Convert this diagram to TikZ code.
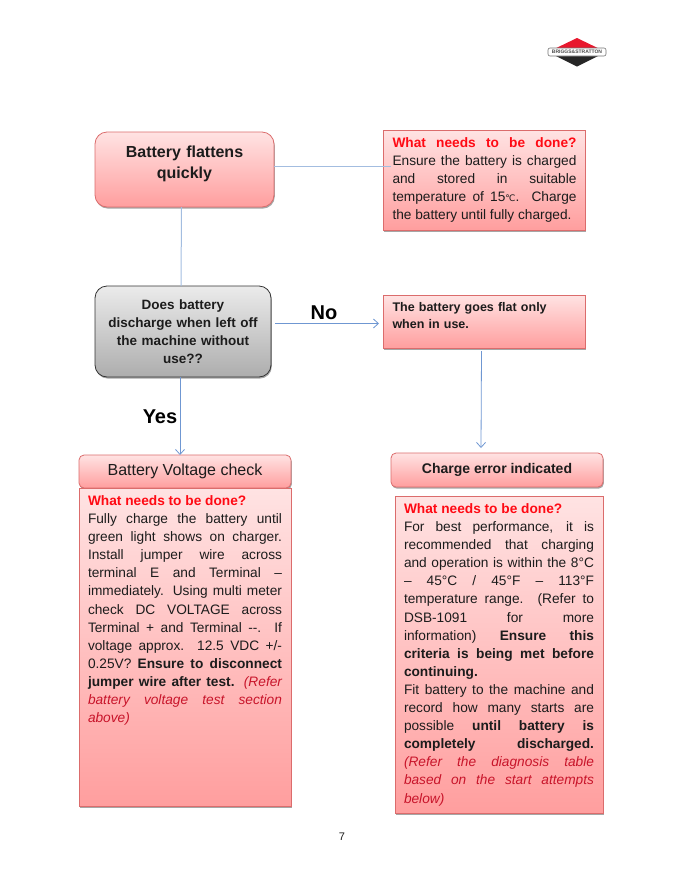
\documentclass[tikz,border=0pt]{standalone}
\usepackage{fontspec}
\setmainfont{Liberation Sans}
\newfontfamily\symbolfont{DejaVu Sans}
\usepackage{tikz}
\usetikzlibrary{arrows.meta,positioning,shadows}
\definecolor{PinkTop}{HTML}{FFE3E3}
\definecolor{PinkLow}{HTML}{FF9E9E}
\definecolor{PinkRule}{HTML}{DB6C6C}
\definecolor{GreyTop}{HTML}{EBEBEB}
\definecolor{GreyLow}{HTML}{ADADAD}
\definecolor{Ink}{HTML}{1C1C1C}
\definecolor{DoneRed}{HTML}{FF0A14}
\definecolor{ReferRed}{HTML}{C8142A}
\definecolor{LinkBlue}{HTML}{6F97D2}
\definecolor{LinkPale}{HTML}{A3BDE0}
\definecolor{LogoRed}{HTML}{E8182E}
\newcommand{\donehead}[1]{{\bfseries\color{DoneRed}#1}}
\newcommand{\referline}[1]{{\itshape\color{ReferRed}#1}}

\begin{document}
\begin{tikzpicture}[
  x=1pt,y=-1pt,
  softshadow/.style={drop shadow={shadow xshift=.8pt,shadow yshift=-1.6pt,opacity=.35,fill=black}},
  pinkbox/.style={draw=PinkRule,line width=.8pt,top color=PinkTop,bottom color=PinkLow,outer sep=0pt,softshadow,text=Ink},
  headbox/.style={pinkbox,rounded corners=12pt,align=center,font=\bfseries\fontsize{16}{21}\selectfont},
  stripbox/.style={pinkbox,rounded corners=5pt,minimum height=33pt,align=center},
  notebox/.style={pinkbox,anchor=north west,inner xsep=9pt,inner ysep=7.5pt,align=justify,execute at begin node=\sloppy,font=\fontsize{13.7}{18.1}\selectfont},
  askbox/.style={draw=black!80,line width=.8pt,top color=GreyTop,bottom color=GreyLow,rounded corners=12pt,outer sep=0pt,softshadow,align=center,text=Ink,font=\bfseries\fontsize{13.5}{18.1}\selectfont},
  arr/.style={-{Straight Barb[length=5pt,width=9pt]},draw=LinkBlue,line width=.8pt},
  link/.style={draw=LinkPale,line width=1pt},
  answer/.style={font=\bfseries\fontsize{20}{24}\selectfont,text=black,inner sep=0pt}
]
\useasboundingbox (0,0) rectangle (690,884);
% logo
\fill[LogoRed] (548,52) -- (577,38) -- (606,52) -- cycle;
\fill[black!85] (548,52) -- (577,66.5) -- (606,52) -- cycle;
\node[draw=black!55,fill=white,rounded corners=2pt,line width=.6pt,minimum width=58pt,minimum height=8pt,inner sep=0pt,font=\bfseries\fontsize{5}{5}\selectfont,text=black!70] (logoband) at (577,52) {BRIGGS\&STRATTON};

\node[headbox,minimum width=179pt,minimum height=75pt,text width=150pt,anchor=north west] (flat) at (95,132) {Battery flattens\\quickly\par\vspace{11pt}};
\node[notebox,minimum width=202pt,text width=184pt] (care) at (383.5,130) {\donehead{What needs to be done?}\linebreak
Ensure the battery is charged\linebreak
and stored in suitable\linebreak
temperature of 15{\symbolfont\small ℃}. Charge\linebreak
the battery until fully charged.};
\node[askbox,below=79pt of flat,xshift=-1.5pt,minimum width=176pt,minimum height=91pt,text width=165pt] (ask) {Does battery\\discharge when left off\\the machine without\\use??};
\node[notebox,text width=184pt,font=\bfseries\fontsize{12.5}{17}\selectfont,align=left] (flatuse) at (383.5,295) {The battery goes flat only\\when in use.\par\vspace{12pt}};

\node[stripbox,anchor=north west,minimum width=212pt,font=\fontsize{16}{20}\selectfont] (volthead) at (79,455) {Battery Voltage check};
\node[notebox,text width=194pt] (voltbody) at (79,488) {\donehead{What needs to be done?}\\
Fully charge the battery until\linebreak
green light shows on charger.\linebreak
Install jumper wire across\linebreak
terminal E and Terminal --\linebreak
immediately. Using multi meter\linebreak
check DC VOLTAGE across\linebreak
Terminal + and Terminal {-}{-}. If\linebreak
voltage approx. 12.5 VDC +/-\linebreak
0.25V? \textbf{Ensure to disconnect\linebreak
jumper wire after test.} \referline{(Refer\linebreak
battery voltage test section\linebreak
above)}\par\vspace{73pt}};

\node[stripbox,anchor=north west,minimum width=212pt,minimum height=34pt,font=\bfseries\fontsize{14}{18}\selectfont] (errhead) at (391,453) {Charge error indicated};
\node[notebox,text width=190pt] (errbody) at (395,496) {\donehead{What needs to be done?}\\
For best performance, it is\linebreak
recommended that charging\linebreak
and operation is within the 8°C\linebreak
-- 45°C / 45°F -- 113°F\linebreak
temperature range. (Refer to\linebreak
DSB-1091 for more\linebreak
information) \textbf{Ensure this\linebreak
criteria is being met before\linebreak
continuing.}\\
Fit battery to the machine and\linebreak
record how many starts are\linebreak
possible \textbf{until battery is\linebreak
completely discharged.}\linebreak
\referline{(Refer the diagnosis table\linebreak
based on the start attempts\linebreak
below)}};

\node[answer,anchor=center] (noword) at (324,313) {No};
\node[answer,anchor=center] (yesword) at (160,417) {Yes};
\node[inner sep=0pt,font=\fontsize{11}{13}\selectfont,text=Ink] (pagenum) at (342,837) {7};

\coordinate (carein) at (391,166);
\coordinate (flatout) at (274,166);
\coordinate (askout) at (275,323.5);
\coordinate (flatusein) at (379,323.5);
\draw[link] (flatout) -- (carein);
\draw[link] ([xshift=-3pt]flat.south) -- ([xshift=-2pt]ask.north);
\draw[arr] (askout) -- (flatusein);
\draw[arr] ([xshift=-3pt]ask.south) -- ([xshift=-5pt]volthead.north);
\draw[arr] ([xshift=-3pt,yshift=-3pt]flatuse.south) -- ([xshift=-16pt,yshift=5pt]errhead.north);
\end{tikzpicture}
\end{document}
